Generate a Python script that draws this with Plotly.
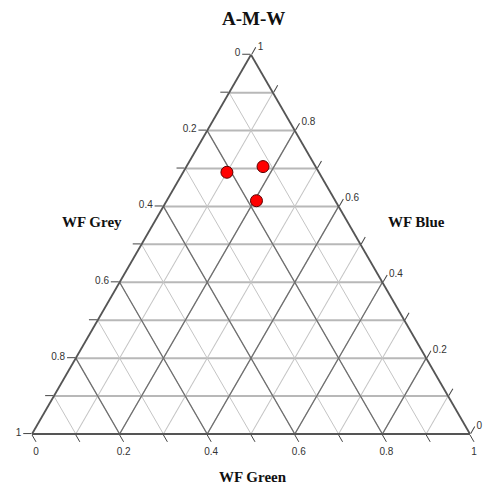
import plotly.graph_objects as go

# Data (ternary compositions)
wf_blue = [0.69, 0.705, 0.615]   # top vertex
wf_grey = [0.21, 0.12, 0.18]     # bottom-left vertex
wf_green = [0.10, 0.175, 0.205]  # bottom-right vertex

# Ticks
tick_vals = [round(i * 0.1, 1) for i in range(11)]
tick_text = [("%g" % round(1 - v, 1)) if i % 2 == 0 else "" for i, v in enumerate(tick_vals)]
major_vals = [0.2, 0.4, 0.6, 0.8]

fig = go.Figure()

# darker major diagonal grid lines
major_a, major_b, major_c = [], [], []
for v in major_vals:
    major_a += [1 - v, 0, None]
    major_b += [v, v, None]
    major_c += [0, 1 - v, None]
    major_a += [1 - v, 0, None]
    major_b += [0, 1 - v, None]
    major_c += [v, v, None]
fig.add_trace(go.Scatterternary(
    a=major_a, b=major_b, c=major_c, mode="lines",
    line=dict(color="#6e6e6e", width=1.3), hoverinfo="skip", showlegend=False,
    connectgaps=False))

fig.add_trace(go.Scatterternary(
    a=wf_blue, b=wf_grey, c=wf_green, mode="markers",
    marker=dict(size=12, color="#ff0000", line=dict(color="#5a0000", width=1)),
    showlegend=False))

axis_common = dict(
    tickmode="array", tickvals=tick_vals, ticktext=tick_text,
    ticks="outside", ticklen=8, tickcolor="#444", tickwidth=1.3,
    tickfont=dict(family="Liberation Sans, Arial", size=10, color="#333"),
    linecolor="#555", linewidth=1.8, showline=True,
    showgrid=True, gridcolor="#c4c4c4", gridwidth=1, title=dict(text=""),
)

OFF = 8  # page body margin


def ann(text, x, y, size):
    return dict(text=text, x=(x - OFF) / 494, y=1 - (y - OFF) / 486, xref="paper", yref="paper",
                xanchor="center", yanchor="middle", showarrow=False,
                font=dict(family="Liberation Serif", size=size, color="#111"))


fig.update_layout(
    width=494, height=486,
    margin=dict(l=0, r=0, t=0, b=0),
    paper_bgcolor="white",
    ternary=dict(
        domain=dict(x=[24 / 494, 462 / 494], y=[60 / 486, 439.3 / 486]),
        bgcolor="white",
        sum=1,
        aaxis=dict(axis_common, gridcolor="#b8b8b8", gridwidth=1.8),
        baxis=dict(axis_common),
        caxis=dict(axis_common),
    ),
    annotations=[
        ann("<b>A-M-W</b>", 253, 18, 19),
        ann("<b>WF Grey</b>", 92, 222, 15),
        ann("<b>WF Blue</b>", 416, 222, 15),
        ann("<b>WF Green</b>", 253, 477, 15),
    ],
)

fig.write_html("out.html")
